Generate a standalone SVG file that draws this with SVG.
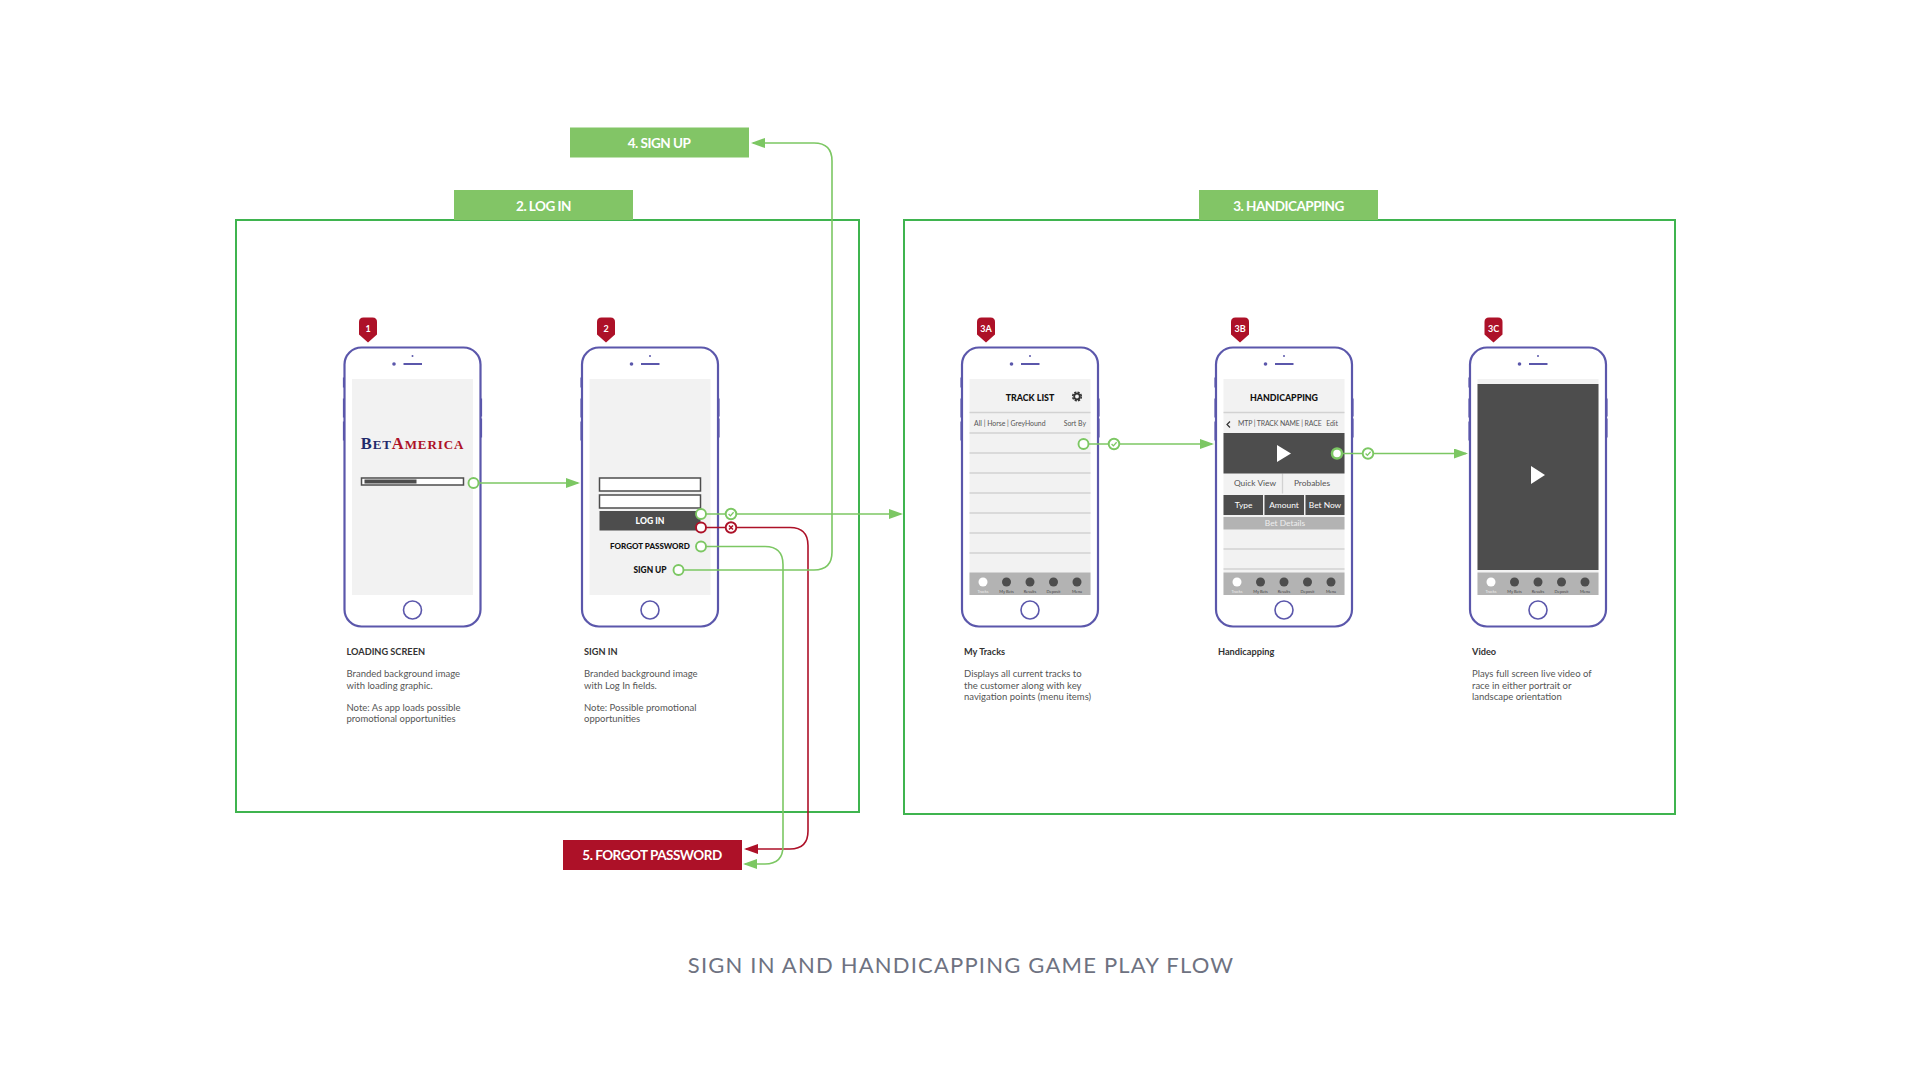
<svg xmlns="http://www.w3.org/2000/svg" xmlns:xlink="http://www.w3.org/1999/xlink" width="1920" height="1077" viewBox="0 0 1920 1077">
<style>
text{font-family:Lato,"Noto Sans","Liberation Sans",sans-serif}
.frame{fill:none;stroke:#3fb44f;stroke-width:2}
.gtab{fill:#82c566}.rtab{fill:#ad1128}
.tabt{fill:#fff;font-size:13.500px;font-weight:700;text-anchor:middle;letter-spacing:-.5px}
.pin{fill:#ad1128}
.pint{fill:#fff;font-size:9px;font-weight:700;text-anchor:middle}
.body{fill:none;stroke:#5b57ab;stroke-width:2.2}
.scr{fill:#f2f2f2}
.pf{fill:#5b57ab}
.ps{fill:none;stroke:#5b57ab;stroke-width:1.6}
.hd{fill:#333;font-size:9.200px;font-weight:700}
.bd{fill:#555;font-size:9.500px}
.t9{fill:#111;font-size:8.800px;font-weight:900;text-anchor:middle}
.s7{fill:#555;font-size:6.900px}
.s8{fill:#555;font-size:8.400px;text-anchor:middle}
.w8{fill:#fff;font-size:8.400px;text-anchor:middle}
.rule{stroke:#d2d2d2;stroke-width:1.300;fill:none}
.dark{fill:#4d4d4d}
.bar{fill:#b3b3b3}
.lab{fill:#444;font-size:4px;text-anchor:middle}
.g{fill:none;stroke:#7cc763;stroke-width:1.600}
.r{fill:none;stroke:#ad1128;stroke-width:1.600}
.gc{fill:#fff;stroke:#7cc763;stroke-width:1.900}
.rc{fill:#fff;stroke:#ad1128;stroke-width:1.900}
.fld{fill:#fff;stroke:#4d4d4d;stroke-width:1.500}
</style>
<defs>
<marker id="ag" markerUnits="userSpaceOnUse" markerWidth="14" markerHeight="10" refX="12" refY="5" orient="auto"><path d="M0 0L14 5L0 10Z" fill="#7cc763"/></marker>
<marker id="ar" markerUnits="userSpaceOnUse" markerWidth="14" markerHeight="10" refX="12" refY="5" orient="auto"><path d="M0 0L14 5L0 10Z" fill="#ad1128"/></marker>
<path id="pinshape" class="pin" d="M-9 -155.500Q-9 -160 -4.500 -160H4.500Q9 -160 9 -155.500V-143L0 -135L-9 -143Z"/>
<g id="phone">
<rect class="body" x="-68" y="-130" width="136" height="279" rx="17"/>
<path d="M-69 -100V-90M-69 -79V-60M-69 -56V-37M69 -79V-61M69 -59V-40" stroke="#5b57ab" stroke-width="1.200" fill="none"/>
<rect class="scr" x="-60.500" y="-98.500" width="121" height="216"/>
<circle class="pf" cx="0" cy="-121.500" r="1"/>
<circle class="pf" cx="-18.500" cy="-113.500" r="1.800"/>
<path d="M-9 -113.500H9.500" stroke="#5b57ab" stroke-width="2"/>
<circle class="ps" cx="0" cy="132.500" r="9"/>
</g>
<g id="tabbar">
<rect class="bar" x="-60.500" y="95" width="121" height="22.500"/>
<circle cx="-47" cy="104.500" r="4.500" fill="#fff"/>
<circle class="dark" cx="-23.500" cy="104.500" r="4.500"/>
<circle class="dark" cx="0" cy="104.500" r="4.500"/>
<circle class="dark" cx="23.500" cy="104.500" r="4.500"/>
<circle class="dark" cx="47" cy="104.500" r="4.500"/>
<text class="lab" x="-47" y="115" style="fill:#eee">Tracks</text>
<text class="lab" x="-23.500" y="115">My Bets</text>
<text class="lab" x="0" y="115">Results</text>
<text class="lab" x="23.500" y="115">Deposit</text>
<text class="lab" x="47" y="115">Menu</text>
</g>
<g id="chk"><circle class="gc" r="5.300"/><path d="M-2.400 0L-.6 1.900L2.600 -1.800" fill="none" stroke="#7cc763" stroke-width="1.300"/></g>
</defs>
<rect width="1920" height="1077" fill="#fff"/>

<g id="frame-login">
<rect class="frame" x="236" y="220" width="623" height="592"/>
<rect class="gtab" x="454" y="190" width="179" height="30"/>
<text class="tabt" x="543.500" y="210.500">2. LOG IN</text>
</g>
<g id="frame-handicapping">
<rect class="frame" x="904" y="220" width="771" height="594"/>
<rect class="gtab" x="1199" y="190" width="179" height="30"/>
<text class="tabt" x="1288.500" y="210.500">3. HANDICAPPING</text>
</g>
<g id="node-signup">
<rect class="gtab" x="570" y="127.500" width="179" height="30"/>
<text class="tabt" x="659" y="147.500">4. SIGN UP</text>
</g>
<g id="node-forgot">
<rect class="rtab" x="563" y="840" width="179" height="30"/>
<text class="tabt" x="652" y="860">5. FORGOT PASSWORD</text>
</g>

<g id="node-1" transform="translate(412.500,477.500)">
<use xlink:href="#phone"/>
<text x="0" y="-29" text-anchor="middle" style="font-family:'Liberation Serif',serif;font-weight:700;font-size:13px;letter-spacing:.9px"><tspan fill="#1f2a6b" font-size="16.500">B</tspan><tspan fill="#1f2a6b">ET</tspan><tspan fill="#ad1128" font-size="16.500">A</tspan><tspan fill="#ad1128">MERICA</tspan></text>
<rect class="fld" x="-51" y="0.500" width="102" height="7"/>
<rect class="dark" x="-48" y="2" width="52" height="4"/>
<use xlink:href="#pinshape" x="-44.500"/>
<text class="pint" x="-44.500" y="-145.500">1</text>
<text class="hd" x="-66" y="177">LOADING SCREEN</text>
<text class="bd" x="-66" y="199.500">Branded background image</text>
<text class="bd" x="-66" y="211">with loading graphic.</text>
<text class="bd" x="-66" y="233">Note: As app loads possible</text>
<text class="bd" x="-66" y="244">promotional opportunities</text>
</g>

<g id="node-2" transform="translate(650,477.500)">
<use xlink:href="#phone"/>
<rect class="fld" x="-50.500" y="0.500" width="101" height="13"/>
<rect class="fld" x="-50.500" y="17.500" width="101" height="13"/>
<rect class="dark" x="-50.500" y="33.500" width="101" height="19.500"/>
<text x="0" y="46" text-anchor="middle" style="font-size:8.600px;font-weight:900;fill:#fff">LOG IN</text>
<text class="t9" x="0" y="71.500" style="font-size:8px">FORGOT PASSWORD</text>
<text class="t9" x="0" y="95.500" style="font-size:8.400px">SIGN UP</text>
<use xlink:href="#pinshape" x="-44"/>
<text class="pint" x="-44" y="-145.500">2</text>
<text class="hd" x="-66" y="177">SIGN IN</text>
<text class="bd" x="-66" y="199.500">Branded background image</text>
<text class="bd" x="-66" y="211">with Log In fields.</text>
<text class="bd" x="-66" y="233">Note: Possible promotional</text>
<text class="bd" x="-66" y="244">opportunities</text>
</g>

<g id="node-3a" transform="translate(1030,477.500)">
<use xlink:href="#phone"/>
<text class="t9" x="0" y="-77">TRACK LIST</text>
<circle cx="47" cy="-81" r="2.800" fill="none" stroke="#333" stroke-width="1.800"/>
<circle cx="47" cy="-81" r="4.300" fill="none" stroke="#333" stroke-width="1.600" stroke-dasharray="2.200 1.180"/>
<path class="rule" d="M-60.500 -65H60.500M-60.500 -44.500H60.500M-60.500 -24.500H60.500M-60.500 -4.500H60.500M-60.500 15.500H60.500M-60.500 35.500H60.500M-60.500 55.500H60.500M-60.500 75.500H60.500"/>
<text class="s7" x="-56" y="-52">All | Horse | GreyHound</text>
<text class="s7" x="56" y="-52" text-anchor="end">Sort By</text>
<use xlink:href="#tabbar"/>
<use xlink:href="#pinshape" x="-44"/>
<text class="pint" x="-44" y="-145.500">3A</text>
<text class="hd" x="-66" y="177">My Tracks</text>
<text class="bd" x="-66" y="199.500">Displays all current tracks to</text>
<text class="bd" x="-66" y="211">the customer along with key</text>
<text class="bd" x="-66" y="222">navigation points (menu items)</text>
</g>

<g id="node-3b" transform="translate(1284,477.500)">
<use xlink:href="#phone"/>
<text class="t9" x="0" y="-77">HANDICAPPING</text>
<path class="rule" d="M-60.500 -65H60.500M-1.500 -4V16M-60.500 71.500H60.500M-60.500 91.500H60.500"/>
<path d="M-54 -56L-57 -53L-54 -50" fill="none" stroke="#333" stroke-width="1.200"/>
<text class="s7" x="-46" y="-52" style="letter-spacing:-.12px">MTP | TRACK NAME | RACE</text>
<text class="s7" x="54" y="-52" text-anchor="end">Edit</text>
<rect class="dark" x="-60.500" y="-44.500" width="121" height="40.500"/>
<path d="M-7 -32.500L7 -24L-7 -15.500Z" fill="#fff"/>
<text class="s8" x="-29" y="8.500">Quick View</text>
<text class="s8" x="28" y="8.500">Probables</text>
<rect class="dark" x="-60.500" y="17.500" width="39.500" height="20"/>
<rect class="dark" x="-19.500" y="17.500" width="39.500" height="20"/>
<rect class="dark" x="21.500" y="17.500" width="39" height="20"/>
<text class="w8" x="-40.500" y="30.500">Type</text>
<text class="w8" x="0" y="30.500">Amount</text>
<text class="w8" x="41" y="30.500">Bet Now</text>
<rect class="bar" x="-60.500" y="39.500" width="121" height="12.500"/>
<text class="w8" x="1" y="48.500" style="fill:#eee">Bet Details</text>
<use xlink:href="#tabbar"/>
<use xlink:href="#pinshape" x="-44"/>
<text class="pint" x="-44" y="-145.500">3B</text>
<text class="hd" x="-66" y="177">Handicapping</text>
</g>

<g id="node-3c" transform="translate(1538,477.500)">
<use xlink:href="#phone"/>
<rect class="dark" x="-60.500" y="-93.500" width="121" height="186"/>
<path d="M-7 -11.500L7 -2.500L-7 6.500Z" fill="#fff"/>
<use xlink:href="#tabbar"/>
<use xlink:href="#pinshape" x="-44.500"/>
<text class="pint" x="-44.500" y="-145.500">3C</text>
<text class="hd" x="-66" y="177">Video</text>
<text class="bd" x="-66" y="199.500">Plays full screen live video of</text>
<text class="bd" x="-66" y="211">race in either portrait or</text>
<text class="bd" x="-66" y="222">landscape orientation</text>
</g>

<g id="connectors">
<path class="g" d="M473 483H578" marker-end="url(#ag)"/>
<path class="g" d="M701 514H901" marker-end="url(#ag)"/>
<path class="r" d="M701 527.500H790Q808 527.500 808 545.500V831Q808 849 790 849H746" marker-end="url(#ar)"/>
<path class="g" d="M701 546.500H765Q783 546.500 783 564.500V846Q783 864 765 864H745" marker-end="url(#ag)"/>
<path class="g" d="M678 570H814Q832 570 832 552V161Q832 143 814 143H753" marker-end="url(#ag)"/>
<path class="g" d="M1083 444H1212" marker-end="url(#ag)"/>
<path class="g" d="M1337 453.500H1466" marker-end="url(#ag)"/>
<circle class="gc" cx="473.500" cy="483" r="5"/>
<circle class="gc" cx="701" cy="514" r="5"/>
<circle class="rc" cx="701" cy="527.500" r="5"/>
<circle class="gc" cx="701" cy="546.500" r="5"/>
<circle class="gc" cx="678.500" cy="570" r="5"/>
<circle class="gc" cx="1083.500" cy="444" r="5"/>
<circle class="gc" cx="1337" cy="453.500" r="5" style="stroke-width:2.500"/>
<use xlink:href="#chk" x="731" y="514"/>
<circle class="rc" cx="731" cy="527.500" r="5.300"/><path d="M729 525.500L733 529.500M733 525.500L729 529.500" stroke="#ad1128" stroke-width="1.500" fill="none"/>
<use xlink:href="#chk" x="1114" y="444"/>
<use xlink:href="#chk" x="1368" y="453.500"/>
</g>

<text id="caption" x="961" y="972.500" text-anchor="middle" style="fill:#6e7281;font-size:22px;letter-spacing:1.200px">SIGN IN AND HANDICAPPING GAME PLAY FLOW</text>
</svg>
